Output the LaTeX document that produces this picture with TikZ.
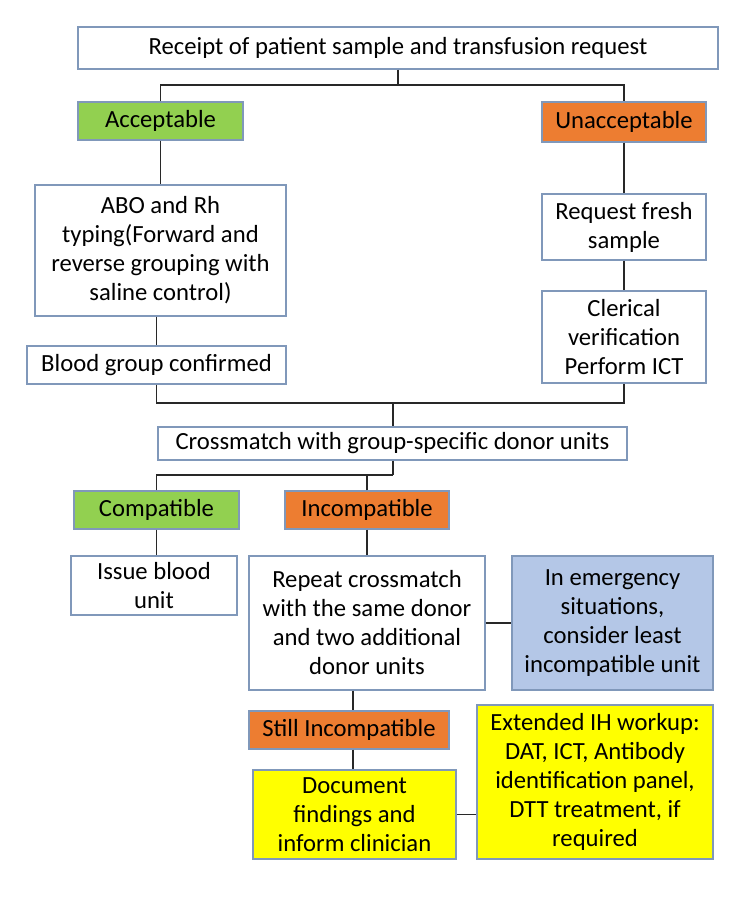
\documentclass[tikz,border=0pt]{standalone}
\usepackage{fontspec}
\setmainfont{Carlito}
\begin{document}
\begin{tikzpicture}[x=0.75pt,y=-0.75pt,
  box/.style={draw=bordc, line width=0.9pt, fill=white, inner sep=0pt, align=center,
    font=\fontsize{18.5pt}{21.75pt}\selectfont},
  conn/.style={draw=connc, line width=1.1pt}]
\definecolor{bordc}{RGB}{128,152,186}
\definecolor{connc}{RGB}{40,40,40}
\definecolor{greenf}{RGB}{146,208,80}
\definecolor{orangef}{RGB}{237,125,49}
\definecolor{bluef}{RGB}{180,199,231}
\definecolor{yellowf}{RGB}{255,255,0}
\useasboundingbox[fill=white] (0,0) rectangle (750,902);

\node[box, minimum width=480pt, minimum height=31.5pt] (top) at (398,48) {Receipt of patient sample and transfusion request};
\node[box, fill=greenf, minimum width=123.75pt, minimum height=28.5pt] (acc) at (160.5,121) {Acceptable};
\node[box, fill=orangef, minimum width=123pt, minimum height=30pt] (unacc) at (624,122) {Unacceptable};
\node[box, minimum width=188.25pt, minimum height=98.25pt] (abo) at (160.5,250.5) {ABO and Rh\\typing(Forward and\\reverse grouping with\\saline control)};
\node[box, minimum width=123pt, minimum height=49.5pt] (req) at (624,227) {Request fresh\\sample};
\node[box, minimum width=123pt, minimum height=69pt] (cler) at (624,337) {Clerical\\verification\\Perform ICT};
\node[box, minimum width=194.25pt, minimum height=28.5pt] (bgc) at (156.5,365) {Blood group confirmed};
\node[box, minimum width=351.75pt, minimum height=24.75pt] (cross) at (392.5,443.5) {Crossmatch with group-specific donor units};
\node[box, fill=greenf, minimum width=123.75pt, minimum height=28.5pt] (comp) at (156.5,510) {Compatible};
\node[box, fill=orangef, minimum width=123pt, minimum height=28.5pt] (incomp) at (367,510) {Incompatible};
\node[box, minimum width=124.5pt, minimum height=44.25pt] (issue) at (154,585.5) {Issue blood\\unit};
\node[box, minimum width=177pt, minimum height=100.5pt] (rep) at (367,623) {Repeat crossmatch\\with the same donor\\and two additional\\donor units};
\node[box, fill=bluef, minimum width=150.75pt, minimum height=100.5pt] (emerg) at (612.5,623) {In emergency\\situations,\\consider least\\incompatible unit};
\node[box, fill=orangef, minimum width=150pt, minimum height=28.5pt] (still) at (349,730) {Still Incompatible};
\node[box, fill=yellowf, minimum width=152.25pt, minimum height=66.75pt] (doc) at (354.5,814.5) {Document\\findings and\\inform clinician};
\node[box, fill=yellowf, minimum width=177pt, minimum height=115.5pt] (ext) at (595,782) {Extended IH workup:\\DAT, ICT, Antibody\\identification panel,\\DTT treatment, if\\required};

\coordinate (j1) at (398,85);
\coordinate (j2) at (393,403);
\coordinate (j3) at (393,475);

\draw[conn] (top.south) -- (j1);
\draw[conn] (acc.north) |- (j1) -| (unacc.north);
\draw[conn] (acc.south) -- (abo.north);
\draw[conn] (abo.south -| bgc.north) -- (bgc.north);
\draw[conn] (unacc.south) -- (req.north);
\draw[conn] (req.south) -- (cler.north);
\draw[conn] (bgc.south) |- (j2) -| (cler.south);
\draw[conn] (j2) -- (cross.north -| j2);
\draw[conn] (cross.south -| j3) -- (j3);
\draw[conn] (comp.north) |- (j3);
\draw[conn] (incomp.north) -- (incomp.north |- j3);
\draw[conn] (comp.south) -- (comp.south |- issue.north);
\draw[conn] (incomp.south) -- (rep.north);
\draw[conn] (rep.east) -- (emerg.west);
\draw[conn] (rep.south -| 353,0) -- (still.north -| 353,0);
\draw[conn] (still.south -| 353,0) -- (doc.north -| 353,0);
\draw[conn] (doc.east) -- (ext.west |- doc.east);
\end{tikzpicture}
\end{document}
